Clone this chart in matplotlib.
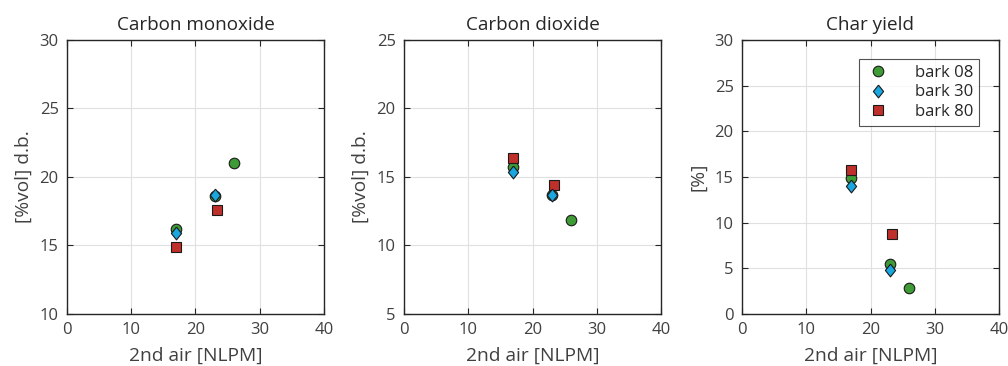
import matplotlib
matplotlib.use("Agg")
import matplotlib.pyplot as plt

plt.rcParams['font.family'] = ['Open Sans', 'DejaVu Sans']

# Secondary air flow [NLPM]
air_08 = [17, 23, 26]
air_30 = [17, 23]
air_80 = [17, 23.3]

# Carbon monoxide [%vol] d.b.
co_08 = [16.2, 18.6, 21.0]
co_30 = [15.9, 18.7]
co_80 = [14.9, 17.6]

# Carbon dioxide [%vol] d.b.
co2_08 = [15.7, 13.65, 11.85]
co2_30 = [15.35, 13.7]
co2_80 = [16.4, 14.45]

# Char yield [%]
char_08 = [14.9, 5.5, 2.9]
char_30 = [14.0, 4.8]
char_80 = [15.75, 8.8]

labels = ["bark 08", "bark 30", "bark 80"]
titles = ["Carbon monoxide", "Carbon dioxide", "Char yield"]
ylabels = ["[%vol] d.b.", "[%vol] d.b.", "[%]"]
ylims = [(10, 30), (5, 25), (0, 30)]

green = "#3f9b35"
blue = "#1aa6df"
red = "#c0302a"
text_col = "#404040"

# slightly narrow diamond
diamond = [(0, 1), (0.8, 0), (0, -1), (-0.8, 0), (0, 1)]

fig = plt.figure(figsize=(10.08, 3.66), dpi=100)
W, H = 1008, 366
lefts = [67, 404, 742]
ax_w = 257
top, bottom = 40, 314

panels = [
    (co_08, co_30, co_80),
    (co2_08, co2_30, co2_80),
    (char_08, char_30, char_80),
]

for i, (d08, d30, d80) in enumerate(panels):
    ax = fig.add_axes([lefts[i] / W, 1 - bottom / H, ax_w / W, (bottom - top) / H])
    ax.plot(air_08, d08, 'o', ms=7.6, mfc=green, mec="#1a1a1a", mew=0.8, label=labels[0], zorder=3)
    ax.plot(air_30, d30, marker=diamond, ls='none', ms=9.2, mfc=blue, mec="#1a1a1a", mew=0.8,
            label=labels[1], zorder=4)
    ax.plot(air_80, d80, 's', ms=7.0, mfc=red, mec="#1a1a1a", mew=0.8, label=labels[2], zorder=3)
    ax.set_xlim(0, 40)
    ax.set_ylim(*ylims[i])
    ax.set_xticks([0, 10, 20, 30, 40])
    ax.set_yticks(range(ylims[i][0], ylims[i][1] + 1, 5))
    ax.grid(True, color="#e0e0e0", lw=0.8)
    ax.set_axisbelow(True)
    ax.tick_params(direction='in', top=True, right=True, length=4, width=0.8,
                   labelsize=12, labelcolor=text_col, pad=6, color="#262626")
    for s in ax.spines.values():
        s.set_color("#262626")
        s.set_linewidth(1.0)
    ax.set_title(titles[i], fontsize=13.6, color="#262626", pad=7)
    ax.set_xlabel("2nd air [NLPM]", fontsize=13.8, color=text_col, labelpad=6)
    ax.set_ylabel(ylabels[i], fontsize=13.8, color=text_col, labelpad=5)
    if i == 2:
        leg = ax.legend(loc='upper right', bbox_to_anchor=(0.922, 0.931), borderaxespad=0,
                        fontsize=12, frameon=True, fancybox=False, edgecolor="#262626",
                        handletextpad=1.4, borderpad=0.35, labelspacing=0.22,
                        handlelength=1.6)
        leg.get_frame().set_linewidth(0.8)
        for t in leg.get_texts():
            t.set_color("#262626")

fig.savefig("out.png", dpi=100)
